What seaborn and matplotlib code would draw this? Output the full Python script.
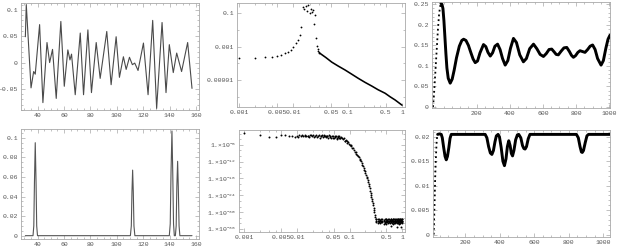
import numpy as np
import matplotlib
matplotlib.use('Agg')
import matplotlib.pyplot as plt
import seaborn as sns
from matplotlib.ticker import FixedLocator, NullFormatter, AutoMinorLocator

# ---------------- data ----------------
# panel 1 (top-left): oscillating signal
x1 = [30.7, 31.4, 35.0, 37.0, 38.2, 41.5, 44.0, 47.1, 49.1, 51.3, 54.1, 57.6, 60.2, 62.9, 64.5,
      65.7, 68.5, 72.3, 74.8, 78.1, 80.8, 84.4, 87.4, 92.4, 95.7, 99.5, 102.0, 105.0, 107.1,
      109.6, 111.8, 113.6, 116.1, 120.2, 123.7, 127.2, 130.2, 134.3, 137.3, 139.8, 142.8,
      145.4, 149.1, 153.7, 157.0]
y1 = [0.049, 0.11, -0.048, -0.017, -0.022, 0.072, -0.076, 0.038, 0.0, 0.025, -0.068, 0.078,
      -0.045, 0.024, 0.005, 0.016, -0.061, 0.056, -0.061, 0.062, -0.057, 0.038, -0.03, 0.059,
      -0.042, 0.049, -0.028, 0.011, -0.013, 0.01, -0.004, -0.001, -0.015, 0.037, -0.061, 0.08,
      -0.087, 0.076, -0.057, 0.034, -0.019, 0.018, -0.017, 0.038, -0.049]

# panel 2 (top-middle): log-log points
x2_sparse = [0.001, 0.002, 0.003, 0.004, 0.005, 0.006, 0.007, 0.008, 0.009, 0.010,
             0.011, 0.012, 0.013, 0.014, 0.015, 0.016, 0.017, 0.018, 0.019, 0.020,
             0.021, 0.022, 0.023, 0.024, 0.025, 0.026, 0.027, 0.028, 0.029, 0.030]
y2_sparse_exp = [-3.69, -3.67, -3.64, -3.60, -3.57, -3.50, -3.40, -3.33, -3.20, -3.03,
                 -2.79, -2.60, -2.31, -1.84, -0.64, -0.76, -0.58, -0.88, -0.52, -1.00,
                 -0.76, -0.94, -0.82, -1.66, -1.12, -2.49, -2.97, -3.15, -3.27, -3.36]
x2_dense = [0.030, 0.032, 0.0398, 0.0509, 0.0665, 0.0895, 0.120, 0.157, 0.209, 0.278,
            0.363, 0.489, 0.604, 0.746, 1.0]
y2_dense_exp = [-3.36, -3.44, -3.66, -3.93, -4.16, -4.40, -4.66, -4.90, -5.14, -5.36,
                -5.58, -5.79, -6.00, -6.19, -6.50]

# panel 3 (top-right)
x3 = [-64, -58, -52, -46, -40, -34, -28, -22, -16, -10, -4, 2, 8, 14, 20, 28, 40, 52, 64, 78,
      95, 110, 121, 135, 150, 165, 178, 191, 205, 220, 241, 255, 268, 282, 296, 310, 326, 341,
      356, 372, 388, 404, 422, 440, 460, 482, 500, 520, 543, 563, 583, 603, 620, 637, 653, 668,
      680, 693, 710, 727, 744, 760, 772, 784, 797, 811, 824, 839, 854, 870, 885, 900, 915, 930,
      951, 965, 980, 993, 1005]
y3 = [0.0, 0.03, 0.07, 0.11, 0.15, 0.19, 0.222, 0.243, 0.252, 0.25, 0.24, 0.21, 0.17, 0.13,
      0.095, 0.07, 0.058, 0.068, 0.09, 0.12, 0.148, 0.162, 0.165, 0.162, 0.15, 0.132, 0.117,
      0.108, 0.112, 0.132, 0.152, 0.147, 0.133, 0.124, 0.132, 0.148, 0.153, 0.14, 0.118, 0.102,
      0.113, 0.143, 0.167, 0.157, 0.127, 0.11, 0.118, 0.142, 0.153, 0.142, 0.128, 0.123, 0.13,
      0.14, 0.141, 0.134, 0.128, 0.127, 0.136, 0.144, 0.145, 0.135, 0.126, 0.121, 0.125, 0.133,
      0.137, 0.135, 0.133, 0.14, 0.148, 0.151, 0.14, 0.118, 0.102, 0.113, 0.143, 0.165, 0.175]

# panel 4 (bottom-left): peaks
x4 = [30.7, 36.5, 37.1, 37.6, 38.2, 38.8, 39.3, 39.9, 110.3, 111.0, 111.5, 112.0, 112.5, 113.0,
      113.7, 139.8, 140.5, 141.1, 141.8, 142.4, 143.0, 143.6, 144.4, 145.0, 145.5, 146.1, 146.6,
      147.2, 147.8, 157.0]
y4 = [0, 0, 0.01, 0.055, 0.095, 0.055, 0.01, 0, 0, 0.01, 0.045, 0.067, 0.045, 0.01, 0, 0, 0.012,
      0.065, 0.107, 0.065, 0.012, 0.0, 0.0, 0.01, 0.05, 0.076, 0.05, 0.01, 0, 0]

# panel 5 (bottom-middle): log-log points (exponents of 10)
x5 = [0.001, 0.002, 0.003, 0.004, 0.005, 0.006, 0.007, 0.008, 0.009, 0.010,
      0.011, 0.012, 0.013, 0.014, 0.015, 0.016, 0.017, 0.018, 0.019, 0.020,
      0.022, 0.024, 0.026, 0.028, 0.030, 0.032, 0.034, 0.036, 0.038, 0.040,
      0.043, 0.046, 0.049, 0.052, 0.055, 0.058, 0.061, 0.064, 0.067, 0.070,
      0.074, 0.078, 0.082, 0.086, 0.090, 0.095, 0.100, 0.105, 0.110, 0.115,
      0.120, 0.130, 0.140, 0.150, 0.160, 0.170, 0.180, 0.190, 0.200, 0.210,
      0.220, 0.230, 0.240, 0.250, 0.260, 0.270, 0.280, 0.290, 0.300, 0.310]
y5_exp = [-1.76, -2.35, -3.18, -3.18, -2.35, -2.60, -2.70, -2.90, -3.10, -2.90,
          -2.60, -2.80, -3.00, -2.50, -2.90, -2.70, -3.20, -2.60, -2.90, -2.40,
          -2.80, -3.10, -2.60, -2.90, -2.50, -3.00, -2.70, -3.30, -2.80, -2.60,
          -3.10, -2.90, -3.40, -3.00, -2.80, -3.50, -3.20, -3.00, -3.60, -3.30,
          -4.00, -3.60, -4.50, -4.10, -5.20, -5.00, -6.20, -6.00, -7.10, -7.00,
          -8.00, -8.60, -9.60, -10.3, -11.4, -12.3, -13.6, -14.9, -16.0, -17.4,
          -18.7, -20.1, -21.5, -23.1, -24.6, -26.1, -27.6, -29.2, -31.0, -32.5]
x5b = [0.0105, 0.0125, 0.0145, 0.0165, 0.0185, 0.021, 0.023, 0.025, 0.027, 0.029,
       0.031, 0.033, 0.035, 0.037, 0.039, 0.0415, 0.0445, 0.0475, 0.0505, 0.0535,
       0.0565, 0.0595, 0.0625, 0.0655, 0.072, 0.080, 0.088, 0.0975, 0.1075, 0.125,
       0.135, 0.145, 0.155, 0.165, 0.175, 0.185, 0.195, 0.205, 0.215, 0.225,
       0.235, 0.245, 0.255, 0.265, 0.275, 0.285, 0.295, 0.305]
y5b_exp = [-3.2, -2.5, -2.8, -3.0, -2.4, -3.3, -2.6, -2.9, -3.4, -2.7,
           -3.1, -2.4, -2.9, -3.0, -3.5, -2.8, -3.4, -2.7, -3.7, -3.2,
           -3.8, -2.9, -3.7, -3.4, -3.5, -4.6, -4.6, -5.6, -6.3, -8.5,
           -9.1, -9.8, -10.9, -11.8, -13.1, -14.2, -15.4, -16.8, -18.0, -19.4,
           -20.8, -22.3, -23.8, -25.4, -26.9, -28.5, -30.1, -31.8]
x5p = [0.32, 0.34, 0.36, 0.38, 0.40, 0.42, 0.44, 0.46, 0.48, 0.50, 0.52, 0.54, 0.56, 0.58,
       0.60, 0.62, 0.64, 0.66, 0.68, 0.70, 0.72, 0.74, 0.76, 0.78, 0.80, 0.82, 0.84, 0.86,
       0.88, 0.90, 0.92, 0.94, 0.96, 0.98, 1.00]
y5p_a = [-32.4, -32.6, -32.3, -32.7, -32.5, -32.4, -32.8, -32.5, -32.6, -32.3, -32.7, -32.5,
         -32.4, -32.8, -32.6, -32.5, -32.7, -32.4, -32.6, -32.5, -32.8, -32.4, -32.6, -32.7,
         -32.5, -32.4, -32.6, -32.8, -32.5, -32.6, -32.4, -32.7, -32.5, -32.6, -32.4]
y5p_b = [-33.6, -33.9, -33.4, -34.0, -33.7, -33.5, -34.1, -33.8, -33.6, -34.2, -33.5, -33.9,
         -33.7, -34.0, -33.6, -35.0, -33.8, -34.1, -33.5, -33.9, -33.7, -34.0, -33.6, -33.8,
         -35.2, -33.9, -33.6, -34.1, -33.7, -33.8, -34.0, -33.6, -35.4, -33.9, -33.7]
y5p_c = [-33.0, -33.2, -33.1, -33.3, -33.0, -33.2, -33.1, -33.4, -33.0, -33.2, -33.3, -33.1,
         -33.0, -33.2, -33.3, -33.1, -33.2, -33.0, -33.3, -33.1, -33.2, -33.0, -33.3, -33.1,
         -33.2, -33.0, -33.3, -33.1, -33.2, -33.0, -33.3, -33.1, -33.2, -33.0, -33.1]

# panel 6 (bottom-right)
x6 = [16, 19, 22, 25, 28, 31, 34, 39, 50, 60, 66, 74, 82, 89, 96, 104, 111, 118, 315, 325, 335,
      345, 354, 363, 372, 380, 390, 398, 408, 418, 427, 436, 444, 452, 460, 467, 474, 482, 492,
      502, 510, 522, 532, 540, 547, 555, 565, 575, 845, 856, 866, 874, 879, 886, 896, 906, 915,
      1040]
y6 = [0.0, 0.004, 0.008, 0.012, 0.015, 0.0175, 0.0195, 0.0205, 0.0206, 0.0205, 0.0198, 0.0178,
      0.016, 0.0153, 0.016, 0.0178, 0.0197, 0.0205, 0.0205, 0.0198, 0.018, 0.0167, 0.0164,
      0.0172, 0.019, 0.0202, 0.0205, 0.02, 0.0178, 0.015, 0.0141, 0.0155, 0.018, 0.0192, 0.0182,
      0.0166, 0.0161, 0.0172, 0.0194, 0.0204, 0.0205, 0.0198, 0.0182, 0.0176, 0.0175, 0.018,
      0.0196, 0.0205, 0.0205, 0.0198, 0.018, 0.0169, 0.0168, 0.0172, 0.0188, 0.0202, 0.0205,
      0.0205]

# tick labels
log_xticks = [0.001, 0.005, 0.01, 0.05, 0.1, 0.5, 1]
log_xlabels = ['0.001', '0.005', '0.01', '0.05', '0.1', '0.5', '1']
p2_yticks = [0.1, 0.001, 0.00001]
p2_ylabels = ['0.1', '0.001', '0.00001']
p5_yexps = [-6, -12, -18, -24, -30, -36]

# ---------------- figure ----------------
sns.set_theme(style='white')
plt.rcParams['font.family'] = ['Liberation Mono', 'DejaVu Sans Mono', 'DejaVu Sans']
plt.rcParams['mathtext.default'] = 'regular'

W, H = 617, 248
fig = plt.figure(figsize=(W / 100, H / 100), dpi=100)


def add_axes(x0, y0, x1, y1):
    return fig.add_axes([x0 / W, (H - y1) / H, (x1 - x0) / W, (y1 - y0) / H])


def style(ax):
    for s in ax.spines.values():
        s.set_color('#a8a8a8')
        s.set_linewidth(0.6)
    ax.tick_params(which='both', direction='in', top=True, right=True, bottom=True, left=True,
                   colors='#a8a8a8', labelcolor='#555555', labelsize=4.6, pad=2.2, width=0.5)
    ax.tick_params(which='major', length=2.6)
    ax.tick_params(which='minor', length=1.4)
    ax.set_xlabel('')
    ax.set_ylabel('')


# panel 1
ax1 = add_axes(21, 3, 199, 110)
sns.lineplot(x=x1, y=y1, ax=ax1, sort=False, estimator=None, color='#4a4a4a', lw=0.8)
ax1.set_xlim(27.4, 162.3)
ax1.set_ylim(-0.09, 0.113)
ax1.set_xticks([40, 60, 80, 100, 120, 140, 160])
ax1.set_xticklabels(['40', '60', '80', '100', '120', '140', '160'])
ax1.set_yticks([-0.05, 0, 0.05, 0.1])
ax1.set_yticklabels(['-0.05', '0', '0.05', '0.1'])
ax1.xaxis.set_minor_locator(AutoMinorLocator(4))
ax1.yaxis.set_minor_locator(AutoMinorLocator(5))
style(ax1)

# panel 2
ax2 = add_axes(237, 3, 405, 107)
sns.lineplot(x=x2_dense, y=[10 ** e for e in y2_dense_exp], ax=ax2, sort=False, estimator=None,
             color='black', lw=1.15)
sns.scatterplot(x=x2_sparse, y=[10 ** e for e in y2_sparse_exp], ax=ax2, color='black', s=1.7,
                linewidth=0)
ax2.set_xscale('log')
ax2.set_yscale('log')
ax2.set_xlim(10 ** -3.037, 10 ** 0.055)
ax2.set_ylim(10 ** -6.61, 10 ** -0.4)
ax2.xaxis.set_major_locator(FixedLocator(log_xticks))
ax2.set_xticklabels(log_xlabels)
ax2.xaxis.set_minor_locator(FixedLocator([0.002, 0.003, 0.004, 0.02, 0.03, 0.04, 0.2, 0.3, 0.4]))
ax2.xaxis.set_minor_formatter(NullFormatter())
ax2.yaxis.set_major_locator(FixedLocator(p2_yticks))
ax2.set_yticklabels(p2_ylabels)
ax2.yaxis.set_minor_locator(FixedLocator([1e-2, 1e-4, 1e-6]))
ax2.yaxis.set_minor_formatter(NullFormatter())
style(ax2)

# panel 3
ax3 = add_axes(432, 2, 610, 108)
sns.lineplot(x=x3[:10], y=y3[:10], ax=ax3, sort=False, estimator=None, color='black', lw=1.3,
             linestyle=':')
sns.lineplot(x=x3[8:], y=y3[8:], ax=ax3, sort=False, estimator=None, color='black', lw=2.1)
ax3.set_xlim(-70, 1005)
ax3.set_ylim(-0.0024, 0.2556)
ax3.set_xticks([200, 400, 600, 800, 1000])
ax3.set_xticklabels(['200', '400', '600', '800', '1000'])
ax3.set_yticks([0, 0.05, 0.1, 0.15, 0.2, 0.25])
ax3.set_yticklabels(['0', '0.05', '0.1', '0.15', '0.2', '0.25'])
ax3.xaxis.set_minor_locator(AutoMinorLocator(4))
ax3.yaxis.set_minor_locator(AutoMinorLocator(5))
style(ax3)

# panel 4
ax4 = add_axes(21, 129, 199, 239)
sns.lineplot(x=x4, y=y4, ax=ax4, sort=False, estimator=None, color='#555555', lw=0.8)
ax4.set_xlim(27.4, 162.3)
ax4.set_ylim(-0.0034, 0.109)
ax4.set_xticks([40, 60, 80, 100, 120, 140, 160])
ax4.set_xticklabels(['40', '60', '80', '100', '120', '140', '160'])
ax4.set_yticks([0, 0.02, 0.04, 0.06, 0.08, 0.1])
ax4.set_yticklabels(['0', '0.02', '0.04', '0.06', '0.08', '0.1'])
ax4.xaxis.set_minor_locator(AutoMinorLocator(4))
ax4.yaxis.set_minor_locator(AutoMinorLocator(4))
style(ax4)

# panel 5
ax5 = add_axes(239, 130, 405, 232)
for xs, ys in [(x5, y5_exp), (x5b, y5b_exp), (x5p, y5p_a), (x5p, y5p_b), (x5p, y5p_c)]:
    sns.scatterplot(x=xs, y=[10.0 ** e for e in ys], ax=ax5, color='black', s=2.0, linewidth=0)
ax5.set_xscale('log')
ax5.set_yscale('log')
ax5.set_xlim(10 ** -3.1, 10 ** 0.051)
ax5.set_ylim(10.0 ** -37.1, 10 ** -0.7)
ax5.xaxis.set_major_locator(FixedLocator(log_xticks))
ax5.set_xticklabels(log_xlabels)
ax5.xaxis.set_minor_locator(FixedLocator([0.002, 0.003, 0.004, 0.02, 0.03, 0.04, 0.2, 0.3, 0.4]))
ax5.xaxis.set_minor_formatter(NullFormatter())
ax5.yaxis.set_major_locator(FixedLocator([10.0 ** e for e in p5_yexps]))
ax5.set_yticklabels(['1.×10$^{%d}$' % e for e in p5_yexps])
ax5.yaxis.set_minor_locator(FixedLocator([10.0 ** e for e in range(-36, -1, 2) if e % 6 != 0]))
ax5.yaxis.set_minor_formatter(NullFormatter())
style(ax5)

# panel 6
ax6 = add_axes(433, 130, 610, 237)
sns.lineplot(x=x6[:8], y=y6[:8], ax=ax6, sort=False, estimator=None, color='black', lw=1.3,
             linestyle=':')
sns.lineplot(x=x6[7:], y=y6[7:], ax=ax6, sort=False, estimator=None, color='black', lw=2.1)
ax6.set_xlim(12, 1040)
ax6.set_ylim(-0.0005, 0.0214)
ax6.set_xticks([200, 400, 600, 800, 1000])
ax6.set_xticklabels(['200', '400', '600', '800', '1000'])
ax6.set_yticks([0, 0.005, 0.01, 0.015, 0.02])
ax6.set_yticklabels(['0', '0.005', '0.01', '0.015', '0.02'])
ax6.xaxis.set_minor_locator(AutoMinorLocator(4))
ax6.yaxis.set_minor_locator(AutoMinorLocator(5))
style(ax6)

fig.savefig('out.png', dpi=100)
